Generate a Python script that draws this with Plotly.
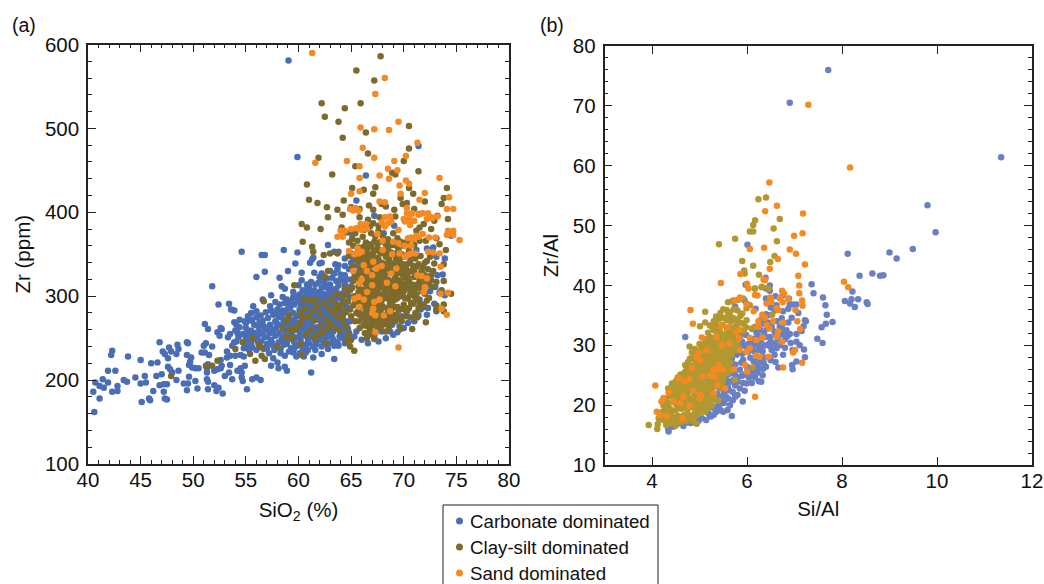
import plotly.graph_objects as go

# Panel (a): (SiO2 %, Zr ppm)
carb_a = [(59.05,581),(59.9,466),(66.4,444),(71.4,479),(65.5,414),(68.2,410),(67.2,396),(69.1,384),(68.1,375),(65.1,373),(74.5,372),(62.8,361),(54.6,353),(56.5,349),(56.8,349),(58.6,355),(59.9,352),(63.4,353),(63.8,353),(61.4,346),(61.3,344),(61.1,340),(59.7,339),(62,339),(62.2,340),(63.5,338),(63.8,337),(56,323),(56.8,329),(58.2,322),(59,330),(60.3,328),(61.5,328),(58.4,312),(58.7,309),(60.3,319),(60.8,314),(60,313),(51.8,312),(62.2,327),(62.3,324),(56.6,296),(57.4,301),(58.5,299),(59.5,299),(60.6,300),
(52.4,290),(53.4,291),(53.6,284),(53.9,283),(55.7,288),(56,282),(57.3,288),(51.1,267),(51.4,261),(52.6,262),(52.7,261),(52.3,257),(52.5,253),(53.9,269),(54.1,266),(46.8,245),(42.3,235),(42.2,230),(43.8,228),(47.7,239),(48.5,242),(48.6,237),(49.4,245),(49.5,244),(47.1,234),(47.3,231),(47.9,234),(48.4,231),(47.6,226),(46,220),(46.6,221),(45,224),(41.9,211),(42.6,211),(40.7,197),(41.4,201),(41.1,193),(41.5,191),(41.9,197),(40.5,186),(41.1,178),(40.6,162),(42.3,186),(42.8,193),(42.8,187),(43.4,200),(43.7,198),(44.5,203),(45.4,205),(45,196),(45.5,197),(46.5,205),(47,207),(46.8,194),(47.2,195),(47.5,195),(46.2,187),(47.2,186),(45.1,174),(45.8,178),(45.9,176),(47.3,178),(47.5,177),(47.6,216),(47.8,213),(48,209),(48.6,211),(48.4,200),(49.1,196),(49.5,196),(49.6,204),(50.2,199),(49.4,188),(50.4,190),(51.4,189),(51.3,201),(51.4,198),(52,194),(52.4,191),(52.2,187),(52.8,184),(55.1,189),(56.4,200),(56,203),(55.6,201),(54.6,203),(54.7,199),
(49.4,230),(49.8,227),(49.7,222),(49.6,218),(49.9,215),(50.5,214),(50.2,214),(50.8,233),(51.1,233),(51.5,230),(51.2,244),(51,241),(51.8,240),(51.4,219),(51.3,214),(51.3,209),(52,211),(52.3,213),(52.6,214),(53,205),(53.7,201),(53.4,209),(53.5,218),(52.7,217),(52.6,224),(53.2,227),(53.5,229),(54,229),(54.5,230),(54.8,228),(54.2,211),(54.5,214),(54.9,217),(54.6,209),(53.2,234),(53.7,241),(53.9,245),(53.5,255),(54,259),(53.3,251),
(55,251),(55.3,255),(55.8,249),(56.1,253),(56.5,247),(55.5,243),(55,262),(55.8,266),(56.6,266),(55.4,271),(54.4,263),(54.7,255),(56,275),(55.2,276),(54.4,272),(54.1,246),(54.8,238),(55.3,236),(56,236),(56.7,237),(57.2,232),(57.6,226),(58,221),(58.1,214),(58.9,211),(58.7,216),(57.4,217),(58.7,229),(59.8,228),(61.4,227),(62.2,231),(63.4,225),(61.2,209),(60.1,232),(60.9,236),
(57,243),(57.4,248),(57.8,253),(58.1,245),(57.3,256),(56.9,260),(57.3,266),(57.8,270),(58.3,266),(58.7,260),(57.1,274),(57.6,278),(58,284),(58.5,283),(58.9,279),(59.2,286),(59.6,290),(60.1,284),(59.8,276),(60.3,272),(59.4,268),(58.9,243),(59.3,238),(59.9,241),(60.4,236),(60.9,247),(59.7,251),(60.1,258),(60.6,253),(61.1,260),(60.8,266),(61.3,270),(61.7,263),(62.1,255),(61.6,246),(62.2,240),(62.8,237),(63.4,241),(63.7,245),(64.2,250),(61.9,276),(62.4,271),(62.9,266),(63.3,258),(62.7,251),(63.8,262),(64.3,257),(61.1,284),(61.6,291),(62.1,286),(62.6,282),(63.2,276),(60.7,296),(61.3,304),(62,298),(62.6,294),(63.1,289),(62.2,310),(62.8,303),(63.4,297),(62.4,318),(63,314),(63.6,309),(64.1,303),(63.2,322),(63.9,319),(64.4,314),(64.4,325),(65,320),(64.8,332),(65.3,328),(65.6,337),(65.2,345),(65.6,352),
(66,248),(66.6,244),(67.6,246),(68.3,250),(69,254),(69.4,257),(70,262),(70.4,268),(71,270),(71.6,284),(72.2,278),(72.9,291),(73.1,282),(73.9,301),(73.4,304),(73,311),(72.6,319),(73.2,325),(73.7,326),(73.9,345),(73.1,347),(72.8,358),(72.2,357),(71.2,355),(70.6,348),(71.7,328),(72.1,316),(71.5,296),(71.9,290),(72.5,306),(70.2,283),(69.8,276),(68.9,266),(67.9,258),(65.3,252),(64.8,256),(58.9,296),(59.5,305),(60.1,302),(61,311),(61.6,314),(59.4,291),(55.5,280),(57.6,258),(56.3,258),(55.5,259),
(56.3,244),(56.8,252),(57.6,241),(58.3,237),(58.4,251),(58.6,272),(59.1,263),(59.3,254),(59.6,245),(60,265),(60.5,262),(60.2,247),(60.7,242),(61.2,252),(61.4,240),(61.9,250),(62.3,262),(62.7,258),(62.4,245),(63,244),(63.2,251),(63.5,269),(63.9,252),(64.4,244),(64.7,261),(65,248),(65.5,258),(60.6,279),(61,273),(61.4,277),(61.9,281),(62.3,277),(62.7,275),(63.1,271),(63.6,281),(64,275),(64.5,270),(60.2,290),(60.7,289),(61.2,293),(61.6,284),(62.5,288),(63,283),(63.5,292),(64,289),(64.6,287),(59.9,295),(60.4,307),(60.9,303),(61.5,299),(62,305),(62.5,300),(63,298),(63.6,303),(64.2,294),(64.8,300),(61.5,307),(61.9,316),(62.7,310),(63.2,306),(63.8,313),(64.4,308),(65,312),(62,323),(62.7,321),(63.4,327),(64,326),(64.6,320),(63,330),(63.7,332),(64.4,336),(65,340),(64.4,345),(64.9,352),(58.2,290),(57.8,293),(58.7,292),(57.9,262),(58.2,256),(58.6,248),(56.6,271),(56.2,263),(55.1,247),(55.6,239),(54.3,251),(54.9,244),(66.6,254),(67.2,251),(68.7,258),(69.6,264),(70.6,275),(71.4,277),(72.3,286),
(59.1,272),(59.6,272),(60.3,261),(60.5,270),(60.9,258),(61.2,265),(61.5,257),(62.1,270),(62.6,265),(63,262),(62.8,280),(63.4,278),(63.2,268),(63.8,268),(64.3,264),(64.9,270),(61.3,298),(61.7,302),(62.3,295),(62.9,295),(63.3,302),(63.9,298),(62.2,291),(62.8,290),(63.3,286),(63.9,279),(62.3,303),(62.5,314),(63.1,309),(63.6,318),(64.2,320),(59.3,294),(59,285),(58.3,275),(57.9,268),(57.4,261),(57,251),(56.6,255),(56.1,247),(55.8,256),(55.2,258),(58.6,242),(59.5,233),(60.5,228),(60.7,233),(61.6,236),(62.6,243),(63.3,248),(64,255),(64.6,251),(63.8,241),(58.1,276),(58.8,268),(59.4,258),(59.9,268),(60.1,252),(60.9,252),(61.6,272),(62.1,248),(62.9,256),
(56.4,277),(56.9,281),(57.4,283),(57.9,280),(58.4,278),(59.5,280),(60,277),(60.5,283),(59.1,291),(59.8,300),(60.3,296),(60.8,308),(61.2,317),(55,268),(55.6,272),(56.3,269),(56.8,263),(54.9,270),(54.2,256),(55.2,241),(56.3,240),(57,238),(57.7,236),(58.3,232),(59.1,234),(57.5,244),(58,239),(58.8,255),(59,248),(59.6,238),(60.3,242),(61,244),(61.7,243),(62.4,252),(61.3,262),(60.7,258),(61.9,259),(62.5,277),(62.1,292),(61.6,280),(61.1,289),(60.9,281),(63.8,287),(64.4,282),(63.5,274),(62.9,276),(62.6,285),(63.1,293),(63.5,298),(62.7,299),(62.2,282),(61.4,286),(61,298),(60.5,292)]

clay_a = [(67.8,586),(65.5,569),(67.2,557),(62.2,530),(65.9,530),(64.4,524),(62.5,514),(63.8,508),(70.5,503),(66.4,495),(64.2,489),(70.5,476),(66.6,470),(61.9,465),(70,461),(65.4,455),(71.4,449),(63.2,445),(69.2,445),(68.9,447),(60.8,433),(65.1,429),(67.3,430),(70.5,429),(74.1,429),(66.2,427),(67.1,422),(70.9,422),(61,415),(64.3,414),(61.8,411),(69.7,417),(69.9,410),(70.3,411),(73.8,417),(72,413),(73.6,410),(66.7,408),(67.9,410),(68.3,407),(62.7,406),(63.7,403),(65,406),(65.8,404),(65.7,402),(67.1,403),(69.1,403),(71,404),(64.2,397),(62.8,394),(65.8,394),(66.6,391),(67.7,394),(69.2,395),(71.5,398),(73.2,396),(74.2,392),(72.9,390),(60.3,386),(60.8,382),(62.1,380),(64.1,382),(72.6,380),(71.9,386),(71.5,382),(71.2,378),(60.4,365),(64.6,376),(65.7,381),(66.3,385),(67.1,387),(73.1,369),(72.1,366),(73.4,362),(74,355),(61.3,359),(61.4,353),(62.4,349),(63,351),(63.7,351),(73.8,338),(72.5,347),(72.9,339),(73.8,318),(73.1,317),(74.5,303),(73.6,307),(59.6,313),(62.8,330),(62.5,323),
(73.8,290),(73.8,282),(73.1,289),(73.1,284),(72.1,269),(71.3,275),(70.9,274),(70.8,261),(69.7,261),(71.9,287),(71.4,286),(67.2,249),(66.5,250),(65.3,235),(64.9,240),(64.5,247),(64.9,247),(56.7,294),(51.2,217),(51.8,217),(52.3,223),(47.9,205),(54.7,245),(55.6,250),(54,237),(55.4,231),(56.2,243),(56.5,239),(56.5,229),(56.8,225),(55.9,223),(58,240),(58.8,251),(59.2,259),(59.7,260),(59.4,250),(60.3,230),(60.2,243),(58.9,271),(59.1,277),(60.5,296),(61.1,295),(61.6,296),(60.6,285),(60.4,275),(60.7,254),(61.2,260),(62.6,244),(61.9,255),(62.3,257),(61.5,250),(60.9,276),(61.3,282),(61.8,288),(62.1,279),(62.6,272),(63,268),(62.4,292),(62.9,286),(63.3,280),(63.7,275),(64.2,270),(64.6,264),(63.1,296),(63.6,290),(64,285),(64.5,281),(63.9,259),(64.8,255),(63.6,303),(64.2,299),(64.7,294),(65.2,289),(64.9,307),(64.4,310),(65,276),(65.4,270),(65.8,262),(66.3,256),(66.9,254),(65.3,300),(65.7,283),(66.1,275),(66.2,290),(65.7,312),(65.2,318),(65.6,326),(65.1,336),(65.5,343),(65.2,360),(64.8,348),(65.7,358),(65.6,366),(66.1,371),(66.4,364),(66.9,375),(67.3,371),(67.6,378),(68,372),(68.5,368),(69,375),(69.4,369),(66,349),(66.5,356),(67,351),(67.5,358),(68,352),(68.5,357),(69,349),(69.5,355),(70,360),(70.5,355),(66.1,339),(66.6,343),(67.1,338),(67.6,344),(68.1,339),(68.6,344),(69.1,337),(69.6,343),(70.1,347),(70.6,341),(71.1,345),(71.6,348),(72,340),(66.2,328),(66.7,332),(67.2,326),(67.7,331),(68.2,326),(68.7,332),(69.2,325),(69.7,331),(70.2,334),(70.7,330),(71.2,335),(71.7,330),(72.3,332),(72.8,330),(66,318),(66.5,322),(67,316),(67.5,321),(68,316),(68.5,320),(69,314),(69.5,319),(70,322),(70.5,318),(71,323),(71.5,318),(72,321),(72.4,314),(66.2,308),(66.7,311),(67.2,305),(67.7,310),(68.2,305),(68.7,309),(69.2,303),(69.7,308),(70.2,311),(70.7,306),(71.2,310),(71.7,306),(65.9,297),(66.4,300),(66.9,295),(67.4,300),(67.9,295),(68.4,299),(68.9,293),(69.4,298),(69.9,302),(70.4,297),(70.9,301),(71.3,296),(66.5,284),(67,288),(67.5,284),(68,288),(68.5,283),(69,288),(69.5,283),(70,290),(70.5,286),(70.9,291),(66.4,272),(66.9,277),(67.4,272),(67.9,277),(68.4,272),(68.9,278),(69.4,273),(67,265),(67.5,261),(68,266),(67.3,256),(66.6,264),(68.6,263),(69.2,270),(69.8,270),(70.2,276),(71.1,280),(71.6,310),(72,303),(72.4,298),(72.7,311),(70.4,367),(71,361),(71.5,366),(66.6,347),(68.3,362),(69.7,365),(67.8,365),
(66.3,345),(66.8,349),(67.3,346),(67.8,351),(68.3,347),(68.8,352),(69.3,345),(69.8,350),(66.4,333),(66.9,337),(67.4,333),(67.9,337),(68.4,333),(68.9,338),(69.4,331),(69.9,338),(66.5,313),(67,321),(67.5,314),(68,322),(68.6,314),(69.1,320),(69.6,313),(66.3,304),(66.8,301),(67.3,309),(67.8,302),(68.3,311),(68.8,301),(69.3,309),(66.2,292),(66.7,290),(67.2,298),(67.7,289),(68.2,298),(68.7,291),(69.2,296),(66.3,280),(66.8,282),(67.3,278),(67.8,283),(68.3,278),(68.8,283),(69.3,278),(67.1,270),(67.7,267),(68.2,269),(66.2,265),(65.8,270),(65.5,280),(65.9,291),(65.4,293),(65.7,305),(65.1,310),(65.3,322),(65.8,333),(65.6,348),(66.7,362),(67.2,365),(68.9,361),(66.2,379),(66.8,383),(67.6,384),(65.1,368),(64.8,364),(65.4,375),(70.2,330),(70.4,322),(70.6,312),(70.7,292),(64.2,291),(63.6,284),(64.9,284),(64.5,302),(64.2,276),(63.5,262),(62.8,262),(62.1,265),(61.5,271),(60.2,268),(59.9,263),(60.1,280),(59.4,262),(58.5,262),
(66.2,359),(66.9,359),(67.5,363),(68.2,366),(68.7,362),(69.3,360),(70.2,364),(65.9,354),(66.4,352),(67.2,354),(67.7,354),(68.4,351),(69.3,351),(69.8,347),(70.4,350),(70.9,351),(65.8,343),(66.4,340),(66.9,343),(67.4,341),(67.9,340),(68.6,340),(69.2,341),(69.7,337),(70.3,338),(70.9,336),(65.9,328),(66.4,325),(66.9,328),(67.6,326),(68.1,330),(68.9,328),(69.4,327),(69.9,326),(70.4,328),(71,329),(65.8,319),(66.3,316),(66.8,318),(67.3,317),(67.8,319),(68.3,318),(68.8,317),(69.3,316),(69.8,315),(70.3,315),(70.8,314),(71.3,314),(65.9,306),(66.5,309),(67,309),(67.5,307),(68,311),(68.5,307),(69,307),(69.5,305),(70,306),(70.5,309),(71,306),(65.6,295),(66.1,299),(66.6,296),(67.1,301),(67.6,297),(68.1,301),(68.6,296),(69.1,300),(69.6,300),(70.1,298),(70.6,302),(71.1,298),(65.9,287),(66.4,287),(66.9,285),(67.4,288),(67.9,286),(68.4,286),(68.9,286),(69.4,287),(69.9,285),(70.3,282),(65.8,278),(66.2,276),(66.7,275),(67.2,276),(67.7,275),(68.2,275),(68.7,274),(69.1,275),(69.6,274),(66.4,268),(66.9,268),(67.4,268),(67.9,270),(68.4,267),(68.9,270),(66.8,260),(67.8,262),(68.3,258),(71.4,338),(71.8,335),(72.2,342),(71.5,326),(72,325),(71.8,313),(71.2,302),(71.5,291),(72.2,295),(72.6,325),(72.5,320)]

sand_a = [(69.5,239),(67.3,257),(74.1,278),(73.6,285),(73.5,303),(74.2,304),(72,311),(71.9,305),(72.2,321),(71.7,324),(71.3,325),(73.5,335),(73.4,351),(72.8,352),(72.3,353),(74.7,378),(74.7,373),(75.3,367),(73,370),(71.8,374),(71.4,371),(70.9,368),(70.7,360),(70.1,360),(71.1,351),(70.7,351),(70.4,349),(70.1,347),(69.6,351),(68.9,350),(69,365),(69.5,363),(68,366),(68,355),(67.5,374),(66.4,386),(66.5,380),(65.5,381),(64.4,378),(64.2,371),(64.8,354),(65.6,357),(65.7,351),(65.3,350),(66,353),(65.2,330),(66.2,337),(67.1,341),(66.5,330),(67,325),(67.4,333),(67.9,336),(69.3,333),(68.8,327),(69.2,312),(68.4,316),(66,320),(65.8,315),(67,313),(66.5,305),(65.3,297),(65.7,299),(66.2,296),(65.8,287),(67.2,293),(67.7,296),(67.1,285),(67,280),(67.3,277),(68.1,277),(68.7,282),(65.4,405),(65.7,402),(68.7,395),(68.8,389),(70.3,405),(70.8,399),(70.1,389),(70.6,385),(71,390),(71.4,397),(72.3,399),(72.7,393),(73.2,395),(74.7,404),(68.2,412),(68.2,383),(69.5,379),
(61.3,590),(68.2,560),(67.3,541),(65.9,501),(67.2,499),(68.6,498),(69.5,508),(71.3,483),(66.1,477),(67.2,465),(64.6,461),(61.6,459),(65.8,455),(69.1,461),(70.2,467),(68.5,452),(69.4,450),(65.8,441),(67.7,444),(68.6,440),(70.2,438),(70.5,434),(69.6,432),(73.4,441),(65,422),(65.8,425),(69.7,422),(72,423),(74.3,418),(71.5,415),(67.7,413),(74.1,404),(64.9,404),(65.2,402),(71.8,399),(70.3,399),(70.7,398),(70,392),(70.5,392),(70.9,390),(68.2,394),(67.9,388),(68.5,387),(72.2,392),(72.6,394),(65.9,386),(66,379),(65,380),(64,378),(63.7,371),(74.2,378),(74.1,373),(72.4,370),(71.2,372),(70.7,370),(70.4,369)]

# Panel (b): (Si/Al, Zr/Al)
carb_b = [(7.71,76),(6.9,70.5),(11.35,61.4),(9.8,53.4),(9.97,48.9),(9.49,46.1),(9,45.5),(9.15,44.5),(8.12,45.3),(8.64,42),(8.8,41.6),(8.87,41.7),(8.37,41.6),(6.01,46.8),(7.36,40.2),(7.4,38.7),(7.6,38),(8.22,39),(6.39,41.3),(6.48,40),(6.48,39.1),(6.4,39.5),(5.97,40.1),(8.06,37.4),(8.2,37.7),(8.17,37),(8.34,37.7),(8.27,36.4),(8.52,37.2),(8.54,36.9),(7.65,36.7),(7.68,35.1),(7.8,33.9),(7.66,33.6),(7.57,33),(7.48,31.1),(7.59,30.4),(6.62,36.7),(6.87,36.1),(6.97,36.8),(7.04,36.8),(7.08,35.4),(6.94,34.6),(7.22,34.2),(7.24,34),(7.19,33.2),(7.15,32.4),(6.87,33.8),(6.73,34.5),(6.69,33.1),(6.83,32.5),(7.04,31.9),(6.85,31.5),(7.04,30.6),(7.11,30),(7.2,29.3),(7.22,28),(7.04,27.3),(6.95,26.7),(6.96,26),(6.76,28.4),(6.6,27.2),(6.66,26.3),(4.7,31.4),
(4.35,15.6),(4.66,16.5),(4.34,16.1),(4.82,17),(5.14,17.5),(5.2,18.5),(5.33,19.3),(5.59,19.2),(5.64,20),(5.47,20.3),(5.91,20.6),(5.75,21.4),(5.5,18.9),(5.68,18.2),(5.1,19.6),(5.36,20.8),(5.56,21.4),(5.7,22.2),(5.95,22.4),(5.92,23.7),(6.1,23.7),(6.3,23.9),(6.33,25),(6.34,26.1),(6.4,26.4),(6.17,24.6),(5.99,23.6),(5.85,22.8),(5.71,24.2),(5.85,25.9),(6.06,25.9),(6.2,26.7),(6.34,28),(6.45,28),(6.24,29.2),(6.38,30),(6.52,29.2),(6.62,29.5),(6.69,30),(6.48,31.4),(6.58,32.3),(6.73,33.1),(6.52,33.1),(6.76,33.7),(5.56,25.7),(5.44,24.1),(5.33,23.2),(5.22,22.1),(5.06,20.9),(5.6,23),(5.75,23.3),(5.82,24.7),(5.52,22.1),(5.38,21.8),(5.63,27.1),(5.78,28.4),(5.92,27.6),(6.07,27.9),(5.85,29.7),(6.03,30.2),(6.15,31.1),(5.98,31.7),(6.11,32.7),(6.28,32.6),(6.42,32.8),(6.28,34.2),(6.4,35.2),(6.58,35.8),(6.16,28.9),(6.27,27.1),(6,26.4),(5.45,26.7),(5.58,28.2),(5.33,25.2),(5.2,24),(5.25,27.3),(5.36,29.2),(6.18,36.1),(5.7,31.2),(5.86,31.6),(5.55,29.7),(5.75,36.5),(5.95,37.5),(6.4,37.8),(6.6,38.2),(6.75,38.3),(6.88,37.8),(6.46,35),(6.65,31),(6.8,29.6),(6.92,30.4),(6.96,29.2),(6.5,27.5),(4.62,17.8),(4.93,18.4),(4.98,17.4),(5.22,19.6),
(5.28,19.8),(5.4,19.9),(5.47,21.3),(5.42,22.8),(5.55,23.7),(5.65,23.9),(5.62,25.2),(5.75,26.8),(5.88,27.1),(5.95,25.1),(6.12,25.1),(6.22,25.4),(6.25,24),(5.8,21.7),(5.7,20.8),(5.3,18.4),(5.05,17.8),(5.56,24.6),(5.66,26.5),(5.7,29),(5.96,29.9),(6.1,29.2),(6.25,30.2),(6.33,29),(6.48,29.9),(6.1,30.9),(6.2,32.1),(6.35,33.6),(6.62,34),(6.75,31.8),(6.57,30.3),(6.4,31.4),(6.3,30.9),(6.5,36.3),(6.76,35.7),(6.9,36.9),(5.9,30.6),(5.8,28.9),(5.55,26.9),(5.48,27.8),(5.5,25),(5.4,24.6),(5.3,24),(5.26,22.9),(5.15,21.5),(5.08,22.2),(4.95,19.6),(4.85,18.1),(4.75,17.1),(4.45,16.4),(4.54,16.9),
(5.5,23),(5.62,22.5),(5.8,23.9),(5.9,24.9),(6.04,24.6),(6.16,25.8),(6.26,26.1),(5.74,25.2),(5.68,27.7),(5.9,28.6),(6.02,28.9),(6.14,27.3),(6.22,27.9),(6.3,29.7),(6.14,30),(6.24,31.5),(6.36,32.1),(6.44,33.8),(6.5,30.6),(6.6,31.7),(6.7,32.3),(6.8,31),(6.9,31.9),(6.58,28.4),(6.46,30.2),(6.35,27.1),(5.52,20.4),(5.6,21.1),(5.44,19.2),(5.36,18.9),(5.24,18.1)]

clay_b = [(6.4,54.7),(6.24,54.4),(6.17,50.9),(6.13,50.1),(6.06,49),(6.13,49),(6.69,51.1),(6.56,49.5),(6.63,47.4),(5.41,46.9),(5.75,47.8),(5.9,44.1),(5.94,42.5),(5.95,42),(6.13,43.3),(6.25,41.8),(6.31,39.7),(6.16,39.5),(6.45,39.5),(6.49,43.9),(6.58,44.9),(6.51,37.3),(6.17,39.5),(6.31,39.8),(5.92,37.8),(5.82,37.6),(5.71,37.5),(5.68,37.3),(6.06,36.7),(5.99,36.2),(5.57,35.9),(5.5,36),(5.64,35.5),(5.35,34.8),(5.12,35.6),(5.01,33.2),(5.26,33.1),(5.99,34.2),(5.85,33.8),(5.75,33.1),(5.57,34.2),(5.43,32.3),(5.22,31.4),(5.19,30.6),(5.78,33.4),(6.1,32.8),(6.17,33.1),(6.53,35.1),(4.79,29.8),(4.7,26.7),(4.8,27.8),(3.93,16.7),(4.12,16.8),(4.11,16),(4.14,17.8),(5.75,24.2),(6.12,26.3),(5.4,20.8),(5.15,19.3),(4.84,17.4),
(4.27,17.4),(4.38,17),(4.5,16.6),(4.6,17.2),(4.72,17.4),(4.33,18.4),(4.44,18),(4.55,18.2),(4.67,18.3),(4.79,18.3),(4.9,18.7),(4.27,19.2),(4.38,19.4),(4.5,19.1),(4.62,19.4),(4.74,19.2),(4.86,19.7),(4.98,19.5),(4.35,20.3),(4.46,20.5),(4.58,20.1),(4.7,20.4),(4.82,20.3),(4.94,20.7),(5.04,20.4),(4.42,21.4),(4.53,21.2),(4.65,21.5),(4.77,21.2),(4.89,21.6),(5,21.4),(5.12,21.3),(4.4,22.4),(4.52,22.3),(4.64,22.5),(4.76,22.2),(4.88,22.6),(5,22.3),(5.13,22.4),(5.25,22.6),(4.5,23.4),(4.62,23.3),(4.74,23.5),(4.86,23.2),(4.98,23.6),(5.1,23.3),(5.22,23.5),(5.34,23.7),(4.54,24.6),(4.66,24.4),(4.78,24.7),(4.9,24.4),(5.02,24.7),(5.14,24.4),(5.26,24.6),(5.38,24.5),(4.7,25.6),(4.82,25.4),(4.94,25.7),(5.06,25.4),(5.18,25.7),(5.3,25.4),(5.42,25.6),(4.82,26.6),(4.94,26.4),(5.06,26.7),(5.18,26.4),(5.3,26.7),(5.42,26.4),(5.52,26.8),(4.86,27.7),(4.98,27.5),(5.1,27.8),(5.22,27.5),(5.34,27.8),(5.46,27.5),(5.58,27.8),(4.95,28.7),(5.08,28.5),(5.2,28.8),(5.32,28.5),(5.44,28.8),(5.56,28.5),(5.05,29.7),(5.17,29.5),(5.29,29.8),(5.41,29.5),(5.53,29.8),(5.65,30),(5.32,30.7),(5.44,30.6),(5.56,30.9),(5.68,31.1),(5.36,31.6),(5.5,31.8),(5.62,32.1),(5.3,32.5),(5.48,33.4),(5.64,33),(5.86,34.9),(5.7,34.6),(5.8,35.8),(5.48,34.6),(5.93,32.4),(4.2,18.3),(4.24,20),(4.3,16.7),(4.45,17.5),(4.57,21.9),(4.69,23.9),(4.8,23.7),(4.92,21.1),(5.05,24),(5.16,24.9),(5.28,24.1),(4.36,21.6),(5.38,27.1),(5.24,28.1),(5.12,26.1),(5,25.1),(4.88,24),(4.74,21.9),(4.58,19.7),(5.18,20.2),(5.28,21.6),(5.45,22.9),(4.96,18.5),(5.06,18.9),(6,36.9),(5.6,37.2),
(4.22,18.9),(4.31,19.8),(4.41,19),(4.52,20),(4.64,20.9),(4.76,20.9),(4.88,21),(5,20.9),(5.1,20.8),(5.22,21.1),(4.47,21.9),(4.6,22.9),(4.7,22.9),(4.82,22.9),(4.94,23),(5.06,22.8),(5.18,23),(5.3,23.1),(5.4,23.2),(4.5,24),(4.6,24),(4.72,24.1),(4.84,24.2),(4.96,24),(5.08,24.9),(5.2,25),(5.33,25),(5.45,25),(4.6,25.1),(4.74,26.1),(4.86,26),(4.98,26.1),(5.1,26.9),(5.22,26),(5.34,26),(5.46,26),(5.56,26.1),(4.76,27.2),(4.92,27),(5.04,27.1),(5.16,27),(5.28,27.1),(5.4,27.8),(5.52,27.3),(5.64,27.2),(4.9,28.2),(5.02,28.1),(5.14,28.2),(5.26,28.9),(5.38,28.3),(5.5,28.2),(5.62,28.9),(5,29.1),(5.11,29),(5.23,29.1),(5.35,29),(5.47,29.2),(5.59,29.2),(5.7,29.6),(5.12,30.4),(5.26,30.3),(5.38,30.1),(5.5,30.4),(5.62,30.5),(5.74,30.6),(5.8,30),(5.28,31.2),(5.44,31.2),(5.58,31.4),(5.72,31.9),(5.4,32.7),(5.58,32.7),(5.7,32.4),(5.35,33.4),(5.66,34),(5.78,34.3),(5.9,35.3),(5.3,34),(4.28,18),(4.36,17.6),(4.54,17.7),(4.66,17.6),(4.78,17.8),(4.88,18),(5.02,19.4),(5.1,19.9),(4.94,16.9),(4.2,17.6),(5.25,19.9),(5.32,21),
(4.3,20.9),(4.46,22.9),(4.56,23),(4.66,25.2),(4.76,25),(4.88,25),(5,26.5),(5.12,27.4),(5.24,26.6),(5.36,26.6),(5.48,26.5),(5.6,26.4),(5.36,24.2),(5.48,23.7),(5.5,24.4),(5.58,25.3),(5.66,25.8),(5.68,28.4),(5.76,29.2),(5.84,31.4),(5.92,33.6),(5.98,33),(4.84,28.8),(4.9,29.4),(5,30.2),(5.12,31),(5.18,32.1),(5.22,33.3),(5.12,33.8),(5.4,34.3),(5.6,35),(5.72,36),(5.44,35.4),(4.68,19.9),(4.8,19.6),(4.92,19.9),(5.04,21.9),(5.16,22.1),(5.26,20.9),(5.12,18.9),(4.5,21),(4.62,21),(4.34,22.8),(4.42,23.6)]

sand_b = [(5.45,40.4),(5.86,41.9),(7.08,41.6),(7.1,40),(7.1,38.7),(6.74,39.1),(6.78,38.6),(6.87,37.7),(6.69,37.8),(6.75,37.2),(7.16,37.5),(7.17,36.6),(7.02,35.9),(7.06,34),(7.12,32.7),(7.01,29.2),(6.97,28.8),(7.16,27.1),(6.76,26.3),(6.17,21.4),(4.07,23.3),(4.81,35.9),(4.86,33.6),(5.05,31.3),(6.38,40.9),(6.03,39.5),(6.17,38.4),(6.22,38.3),(6.5,37.8),(6.41,37),(6.62,36.2),(6.66,35.9),(5.85,38),(5.75,37.5),(5.99,36.8),(6.14,35.7),(6.32,35.1),(6.38,34.6),(6.55,34),(6.76,33.8),(6.41,33.4),(6.47,32.8),(6.66,32.3),(6.62,31.4),(6.74,30.6),(6.33,31.3),(6.24,34),(6.24,33.1),(6.2,30.9),(6.06,31.2),(5.85,29.2),(6.06,29.5),(5.99,28.9),(6.19,28.3),(6.45,28.1),(6.27,28.1),(5.96,26.7),(6,25.6),(5.72,26),(5.45,33.2),(5.59,33),(5.77,32.2),(5.85,32.6),(5.83,31.1),(5.36,31.4),(5.63,30.3),(5.47,30),(4.98,28.7),(5.15,29.2),(4.94,28),(5.01,27.5),(4.84,26.2),(5.4,26.7),(5.4,25.9),(5.5,25.9),(5.29,25.9),(5.22,24.9),(5.33,24.8),(5.07,24.8),(4.56,24.5),(4.68,24),(4.78,24.3),(5.38,23.4),(5.54,22.8),(5.3,22),(4.87,22.4),(5,21.1),(5.03,21.7),(4.66,21.4),(4.45,20.6),(4.59,20.3),(4.79,19.9),(4.64,17.8),(4.35,22.1),(4.24,21.2),(4.2,20.6),(4.1,18.9),(4.17,18.3),(4.31,18.2),
(6.47,57.2),(6.63,53.3),(6.38,52.4),(7.18,52),(7.17,48.7),(6.99,48.3),(6.36,46.3),(6.06,46.1),(6.9,46),(7.03,45.3),(6.65,44.4),(7.22,43.5),(6.48,42.8),(6.35,41),(6.36,40.9),(8.04,40.6),(8.13,39.7),(6,40.3),(6.49,38),(6.5,37.3),(7.29,70.2),(8.17,59.7)]

x_ticks_a = [40, 45, 50, 55, 60, 65, 70, 75, 80]
y_ticks_a = [100, 200, 300, 400, 500, 600]
x_ticks_b = [4, 6, 8, 10, 12]
y_ticks_b = [10, 20, 30, 40, 50, 60, 70, 80]
x_minor_a = list(range(40, 81))
y_minor_a = list(range(100, 601, 20))
y_minor_b = list(range(10, 81, 2))
legend_names = ["Carbonate dominated", "Clay-silt dominated", "Sand dominated"]

C_A = {"carb": "#4a6eb5", "clay": "#7d6b2e", "sand": "#f58a22"}
C_B = {"carb": "#6b80c2", "clay": "#b3982f", "sand": "#f58a22"}
W, H = 1044, 584
FONT = "Liberation Sans, Arial, sans-serif"
INK = "#111111"


def xy(points):
    return [p[0] for p in points], [p[1] for p in points]


fig = go.Figure()
for name, pts, key in zip(legend_names, (carb_a, clay_a, sand_a), ("carb", "clay", "sand")):
    x, y = xy(pts)
    fig.add_trace(go.Scatter(x=x, y=y, mode="markers", name=name, xaxis="x", yaxis="y", showlegend=False,
                             marker=dict(size=6.5, color=C_A[key], line=dict(width=0))))
for name, pts, key in zip(legend_names, (carb_b, clay_b, sand_b), ("carb", "clay", "sand")):
    x, y = xy(pts)
    fig.add_trace(go.Scatter(x=x, y=y, mode="markers", name=name, xaxis="x2", yaxis="y2", showlegend=False,
                             marker=dict(size=6.5, color=C_B[key], line=dict(width=0))))


def minor_ticks(vals):
    return dict(tickmode="array", tickvals=vals, ticks="inside", ticklen=4, tickwidth=1,
                tickcolor="#222222", showgrid=False)


def axis(title, rng, ticks, dom, anchor, minor, standoff, label_off):
    d = dict(title=dict(text=title, font=dict(size=20.5, color=INK), standoff=standoff),
             range=rng, tickmode="array", tickvals=ticks, domain=dom, anchor=anchor, automargin=False,
             showgrid=False, zeroline=False, showline=True, linecolor="#222222", linewidth=1.5,
             mirror="ticks", ticks="inside", ticklen=8, tickwidth=1.2, tickcolor="#222222",
             ticklabelstandoff=label_off, tickfont=dict(size=20.5, color=INK))
    if minor:
        d["minor"] = minor
    return d


shapes = [dict(type="rect", xref="paper", yref="paper", x0=443 / W, x1=658 / W, y0=1 - 600 / H, y1=1 - 505 / H,
               line=dict(color="#222222", width=1), fillcolor="white")]
annots = [
    dict(text="(a)", x=10 / W, y=1 - 25 / H, xref="paper", yref="paper", xanchor="left", yanchor="middle",
         showarrow=False, font=dict(size=19.5, color=INK)),
    dict(text="(b)", x=537.5 / W, y=1 - 25 / H, xref="paper", yref="paper", xanchor="left", yanchor="middle",
         showarrow=False, font=dict(size=19.5, color=INK)),
]
for name, key, row in zip(legend_names, ("carb", "clay", "sand"), (521, 547, 573)):
    shapes.append(dict(type="circle", xref="paper", yref="paper", x0=456 / W, x1=463 / W, y0=1 - (row + 3.5) / H,
                       y1=1 - (row - 3.5) / H, line=dict(width=0), fillcolor=C_A[key]))
    annots.append(dict(text=name, x=468 / W, y=1 - row / H, xref="paper", yref="paper", xanchor="left",
                       yanchor="middle", showarrow=False, font=dict(size=18.7, color=INK)))

fig.update_layout(
    width=W, height=H, autosize=False, margin=dict(l=0, r=0, t=0, b=0, autoexpand=False),
    paper_bgcolor="white", plot_bgcolor="white", font=dict(family=FONT, color=INK), showlegend=False,
    xaxis=axis("SiO<sub>2</sub> (%)", [40, 80], x_ticks_a, [88 / W, 509 / W], "y", minor_ticks(x_minor_a), 12, -3),
    yaxis=axis("Zr (ppm)", [100, 600], y_ticks_a, [1 - 464 / H, 1 - 44.5 / H], "x", minor_ticks(y_minor_a), 9, 3),
    xaxis2=axis("Si/Al", [3, 12], x_ticks_b, [604.5 / W, 1032 / W], "y2", None, 10, -3),
    yaxis2=axis("Zr/Al", [10, 80], y_ticks_b, [1 - 465 / H, 1 - 46 / H], "x2", minor_ticks(y_minor_b), 9, 3),
    shapes=shapes, annotations=annots,
)
fig.write_html("out.html", config={"displayModeBar": False},
               post_script="document.body.style.margin='0';document.body.style.overflow='hidden';")
